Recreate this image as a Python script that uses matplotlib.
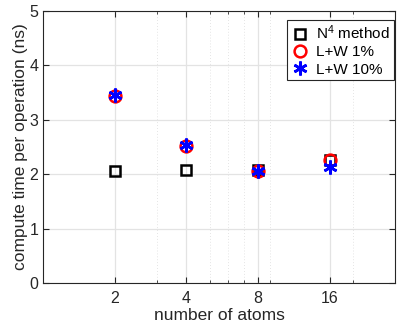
import numpy as np
import matplotlib
matplotlib.use("Agg")
from matplotlib import pyplot as plt
from matplotlib.ticker import FixedLocator, NullFormatter

atoms = [2, 4, 8, 16]
n4_method = [2.05, 2.07, 2.08, 2.27]
lw_1pct = [3.44, 2.51, 2.05, 2.26]
lw_10pct = [3.46, 2.54, 2.06, 2.13]

x_major = [2, 4, 8, 16]
x_minor = [3, 5, 6, 7, 9, 20, 30]

plt.rcParams['font.family'] = ['Liberation Sans', 'DejaVu Sans']
plt.rcParams['mathtext.default'] = 'regular'
fig = plt.figure(figsize=(3.98, 3.30), dpi=100)
ax = fig.add_axes([43/398, 47/330, 352/398, 272/330])

ax.plot(atoms, n4_method, ls='none', marker='s', ms=7.5, mfc='none', mec='black', mew=1.8, label=r'N$^4$ method')
ax.plot(atoms, lw_1pct, ls='none', marker='o', ms=8.5, mfc='none', mec='red', mew=1.8, label='L+W 1%')
ax.plot(atoms, lw_10pct, ls='none', marker=(6, 2, 0), ms=10, mec='blue', mew=1.9, label='L+W 10%')

ax.set_xscale('log')
ax.set_xlim(1, 30)
ax.set_ylim(0, 5)
ax.xaxis.set_major_locator(FixedLocator(x_major))
ax.set_xticklabels([str(v) for v in x_major])
ax.xaxis.set_minor_locator(FixedLocator(x_minor))
ax.xaxis.set_minor_formatter(NullFormatter())
ax.set_yticks([0, 1, 2, 3, 4, 5])

ax.grid(True, which='major', color='#e3e3e3', lw=0.9)
ax.grid(True, which='minor', axis='x', color='#dcdcdc', lw=0.6, ls=(0, (1, 2.5)))
ax.set_axisbelow(True)

ax.tick_params(which='both', direction='in', top=True, right=True, colors='#262626', labelsize=11.5)
ax.tick_params(which='major', length=4)
ax.tick_params(which='minor', length=2.5)
ax.tick_params(axis='x', pad=6)
for s in ax.spines.values():
    s.set_color('#262626')
    s.set_linewidth(0.8)

ax.set_xlabel('number of atoms', fontsize=12.5, color='#262626', labelpad=1)
ax.set_ylabel('compute time per operation (ns)', fontsize=12.5, color='#262626', labelpad=1)

leg = ax.legend(loc='upper right', fontsize=11, fancybox=False, framealpha=1, edgecolor='#262626',
                borderpad=0.25, handletextpad=0.4, labelspacing=0.2, handlelength=1.3,
                borderaxespad=0, bbox_to_anchor=(0.997, 0.967))
leg.get_frame().set_linewidth(0.8)

fig.savefig('out.png', dpi=100)
